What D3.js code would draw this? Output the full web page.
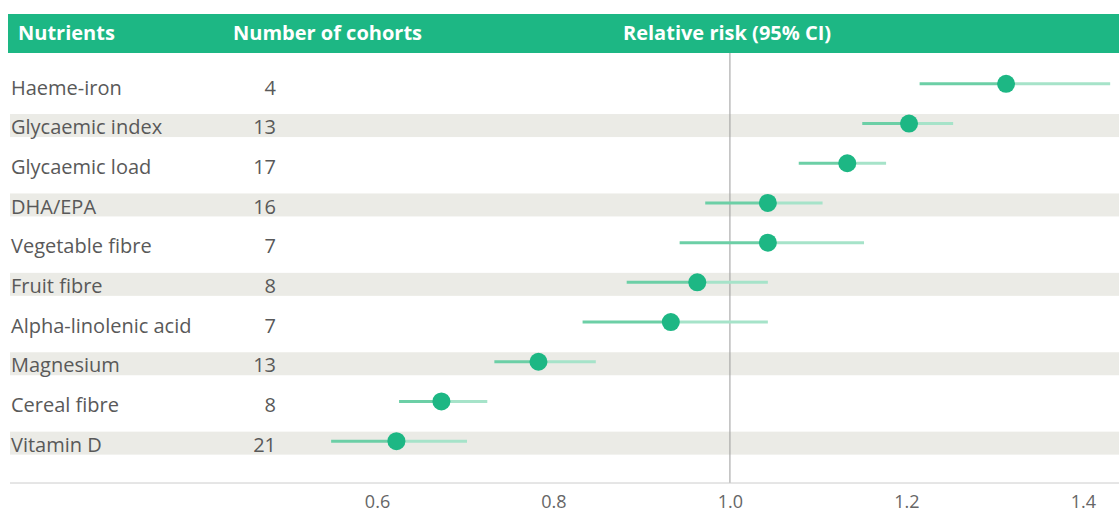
<!DOCTYPE html>
<html>
<head>
<meta charset="utf-8">
<script src="https://cdn.jsdelivr.net/npm/d3@7"></script>
<style>
  body { margin: 0; background: #fff; }
  text { font-family: "Open Sans", "Noto Sans", sans-serif; }
</style>
</head>
<body>
<svg id="chart" width="1119" height="515"></svg>
<script>
// Data
const nutrients = ["Haeme-iron", "Glycaemic index", "Glycaemic load", "DHA/EPA", "Vegetable fibre",
  "Fruit fibre", "Alpha-linolenic acid", "Magnesium", "Cereal fibre", "Vitamin D"];
const cohorts = [4, 13, 17, 16, 7, 8, 7, 13, 8, 21];
const rr = [1.313, 1.203, 1.133, 1.043, 1.043, 0.963, 0.933, 0.783, 0.673, 0.622];
const ciLow = [1.215, 1.15, 1.078, 0.972, 0.943, 0.883, 0.833, 0.733, 0.625, 0.548];
const ciHigh = [1.431, 1.253, 1.177, 1.105, 1.152, 1.043, 1.043, 0.848, 0.725, 0.702];
const xTicks = [0.6, 0.8, 1.0, 1.2, 1.4];

const W = 1119, left = 10;
const svg = d3.select("#chart");

const x = d3.scaleLinear().domain([0.184, 1.441]).range([left, W]);
const y = d3.scaleBand().domain(nutrients).range([66, 463]);
const cy = d => y(d) + y.bandwidth() / 2;

// Header bar
svg.append("rect").attr("x", 8).attr("y", 14).attr("width", W - 8).attr("height", 39)
  .attr("fill", "#1db784");
const headers = [["Nutrients", 18], ["Number of cohorts", 233], ["Relative risk (95% CI)", 623]];
svg.selectAll(".hdr").data(headers).join("text")
  .attr("class", "hdr")
  .attr("x", d => d[1])
  .attr("y", 40)
  .attr("fill", "#fff").style("font-size", "20px").style("font-weight", "bold")
  .text(d => d[0]);

// Alternating bands
svg.selectAll(".band").data(nutrients.filter((d, i) => i % 2 === 1)).join("rect")
  .attr("class", "band")
  .attr("x", left).attr("width", W - left)
  .attr("y", d => cy(d) - 11.5).attr("height", 23)
  .attr("fill", "#ebebe6");

// Reference line at 1.0
svg.append("line")
  .attr("x1", x(1.0)).attr("x2", x(1.0)).attr("y1", 53).attr("y2", 483)
  .attr("stroke", "#9a9a9a").attr("stroke-width", 1);

// Labels
svg.selectAll(".lab").data(nutrients).join("text")
  .attr("class", "lab")
  .attr("x", 11).attr("y", d => cy(d) + 1.5).attr("dy", "0.36em")
  .attr("fill", "#595959").style("font-size", "20px")
  .text(d => d);

svg.selectAll(".num").data(nutrients).join("text")
  .attr("class", "num")
  .attr("x", 276).attr("y", d => cy(d) + 1.5).attr("dy", "0.36em")
  .attr("text-anchor", "end")
  .attr("fill", "#595959").style("font-size", "20px")
  .text((d, i) => cohorts[i]);

// CI lines (left half darker, right half lighter)
svg.selectAll(".ciL").data(nutrients).join("line")
  .attr("class", "ciL")
  .attr("x1", (d, i) => x(ciLow[i])).attr("x2", (d, i) => x(rr[i]))
  .attr("y1", d => cy(d) - 2).attr("y2", d => cy(d) - 2)
  .attr("stroke", "#6ccfa6").attr("stroke-width", 3);
svg.selectAll(".ciH").data(nutrients).join("line")
  .attr("class", "ciH")
  .attr("x1", (d, i) => x(rr[i])).attr("x2", (d, i) => x(ciHigh[i]))
  .attr("y1", d => cy(d) - 2).attr("y2", d => cy(d) - 2)
  .attr("stroke", "#a6e3c9").attr("stroke-width", 3);

// Points
svg.selectAll(".pt").data(nutrients).join("circle")
  .attr("class", "pt")
  .attr("cx", (d, i) => x(rr[i])).attr("cy", d => cy(d) - 2)
  .attr("r", 9).attr("fill", "#1db784");

// X axis
const axis = svg.append("g").attr("transform", "translate(0,483)")
  .call(d3.axisBottom(x).tickValues(xTicks).tickFormat(d3.format(".1f")).tickSize(0).tickPadding(12));
axis.select(".domain").attr("stroke", "#cccccc").attr("d", `M${left},0H${W}`);
axis.selectAll("text").attr("fill", "#666").style("font-size", "18px")
  .style("font-family", "'Open Sans', 'Noto Sans', sans-serif");
</script>
</body>
</html>
